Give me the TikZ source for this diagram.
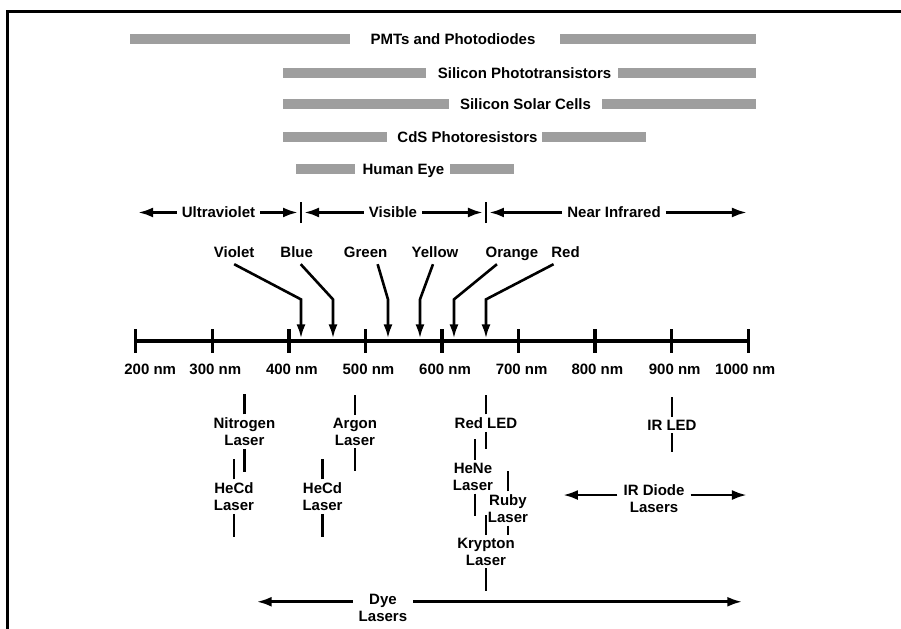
\documentclass[tikz,border=0pt]{standalone}
\usepackage{fontspec}
\setmainfont{Liberation Sans}
\usetikzlibrary{arrows.meta}

\begin{document}
\begin{tikzpicture}[x=76.57pt,y=76.57pt,
  every node/.style={font=\bfseries\fontsize{15}{17}\selectfont},
  sensorbar/.style={fill=black!38},
  rowlabel/.style={text height=10.5pt,text depth=0pt,inner sep=0pt},
  regionlabel/.style={text height=10.5pt,text depth=0pt,inner sep=5pt},
  colourlabel/.style={text height=10.5pt,text depth=4pt,inner sep=3pt},
  laser/.style={align=center,inner sep=3pt},
  spanlabel/.style={align=center,inner sep=6pt},
  pointer/.style={line width=2.6pt,-{Latex[length=14pt,width=9pt]}},
  spanarrow/.style={line width=2.8pt,-{Latex[length=15pt,width=10pt]}},
  lasertick/.style={line width=2.5pt}]
  \useasboundingbox (0.228,-3.752) rectangle (11.995,4.450);
  % frame
  \draw[line width=3pt] (0.32,-3.76) -- (0.32,4.306) -- (12.0,4.306);
  % detectors
  \foreach \y/\a/\b/\c/\d in {3.940/1.926/4.799/7.541/10.101, 3.496/3.924/5.791/8.299/10.101,
      3.091/3.924/6.092/8.090/10.101, 2.660/3.924/5.280/7.305/8.665, 2.242/4.094/4.860/6.110/6.941}
  {
    \fill[sensorbar] (\a,\y-0.07) rectangle (\b,\y+0.07);
    \fill[sensorbar] (\c,\y-0.07) rectangle (\d,\y+0.07);
  }
  \node[rowlabel] (pmt) at (6.144,3.940) {PMTs and Photodiodes};
  \node[rowlabel] (photoT) at (7.078,3.496) {Silicon Phototransistors};
  \node[rowlabel] (solar) at (7.091,3.091) {Silicon Solar Cells};
  \node[rowlabel] (cds) at (6.333,2.660) {CdS Photoresistors};
  \node[rowlabel] (eye) at (5.497,2.242) {Human Eye};
  % regions
  \coordinate (uvL) at (2.031,1.675);
  \coordinate (uvvis) at (4.159,1.675);
  \coordinate (visnir) at (6.575,1.675);
  \coordinate (nirR) at (9.983,1.675);
  \draw[line width=2pt] (4.159,1.535) -- (4.159,1.815);
  \draw[line width=2pt] (6.575,1.535) -- (6.575,1.815);
  \node[regionlabel] (uv) at (3.081,1.675) {Ultraviolet};
  \node[regionlabel] (vis) at (5.360,1.675) {Visible};
  \node[regionlabel] (nir) at (8.247,1.675) {Near Infrared};
  \draw[spanarrow] (uv) -- (uvL);
  \draw[spanarrow] (uv) -- ([xshift=-3pt]uvvis);
  \draw[spanarrow] (vis) -- ([xshift=3pt]uvvis);
  \draw[spanarrow] (vis) -- ([xshift=-3pt]visnir);
  \draw[spanarrow] (nir) -- ([xshift=3pt]visnir);
  \draw[spanarrow] (nir) -- (nirR);
  % colours
  \foreach \name/\tx/\dx/\lam in {Violet/3.286/0/4.159, Blue/4.103/4/4.577, Green/5.003/12/5.295,
      Yellow/5.909/-2/5.713, Orange/6.914/-15/6.157, Red/7.614/-12/6.575}
  {
    \node[colourlabel] (\name) at (\tx,1.136) {\name};
    \draw[pointer] ([xshift=\dx pt]\name.south) -- (\lam,0.54) -- (\lam,0.03);
  }
  % wavelength axis
  \draw[line width=4pt] (2,0) -- (10,0);
  \foreach \x/\lx in {2/2.19, 3/3.04, 4/4.04, 5/5.04, 6/6.04, 7/7.04, 8/8.03, 9/9.04, 10/9.96}
  {
    \draw[line width=3.5pt] (\x,-0.157) -- (\x,0.157);
    \node[rowlabel] (nm\x) at (\lx,-0.37) {\x00 nm};
  }
  % sources
  \node[laser] (nitrogen) at (3.42,-1.186) {Nitrogen\\Laser};
  \draw[lasertick] (nitrogen.north) -- ++(0,0.26);
  \draw[lasertick] (nitrogen.south) -- ++(0,-0.3);
  \node[laser] (hecdA) at (3.284,-2.035) {HeCd\\Laser};
  \draw[lasertick] (hecdA.north) -- ++(0,0.26);
  \draw[lasertick] (hecdA.south) -- ++(0,-0.3);
  \node[laser] (argon) at (4.864,-1.186) {Argon\\Laser};
  \draw[lasertick] (argon.north) -- ++(0,0.26);
  \draw[lasertick] (argon.south) -- ++(0,-0.3);
  \node[laser] (hecdB) at (4.440,-2.035) {HeCd\\Laser};
  \draw[lasertick] (hecdB.north) -- ++(0,0.26);
  \draw[lasertick] (hecdB.south) -- ++(0,-0.3);
  \node[laser] (redled) at (6.575,-1.077) {Red LED};
  \draw[lasertick] (redled.north) -- ++(0,0.26);
  \draw[lasertick] (redled.south) -- ++(0,-0.22);
  \node[laser] (hene) at (6.405,-1.774) {HeNe\\Laser};
  \draw[lasertick] ([xshift=2pt]hene.north) -- ++(0,0.27);
  \draw[lasertick] ([xshift=2pt]hene.south) -- ++(0,-0.3);
  \node[laser] (ruby) at (6.862,-2.191) {Ruby\\Laser};
  \draw[lasertick] (ruby.north) -- ++(0,0.26);
  \draw[lasertick] (ruby.south) -- ++(0,-0.12);
  \node[laser] (krypton) at (6.575,-2.753) {Krypton\\Laser};
  \draw[lasertick] (krypton.north) -- ++(0,0.26);
  \draw[lasertick] (krypton.south) -- ++(0,-0.3);
  \node[laser] (irled) at (9.004,-1.101) {IR LED};
  \draw[lasertick] (irled.north) -- ++(0,0.26);
  \draw[lasertick] (irled.south) -- ++(0,-0.24);
  % diode and dye lasers
  \coordinate (irdL) at (7.580,-2.015);
  \coordinate (irdR) at (9.983,-2.015);
  \node[spanlabel] (irdiode) at (8.770,-2.061) {IR Diode\\Lasers};
  \draw[spanarrow] (irdiode.west |- irdL) -- (irdL);
  \draw[spanarrow] (irdiode.east |- irdR) -- (irdR);
  \coordinate (dyeL) at (3.580,-3.409);
  \coordinate (dyeR) at (9.922,-3.409);
  \node[spanlabel] (dye) at (5.229,-3.485) {Dye\\Lasers};
  \draw[spanarrow] (dye.west |- dyeL) -- (dyeL);
  \draw[spanarrow] (dye.east |- dyeR) -- (dyeR);
\end{tikzpicture}
\end{document}
